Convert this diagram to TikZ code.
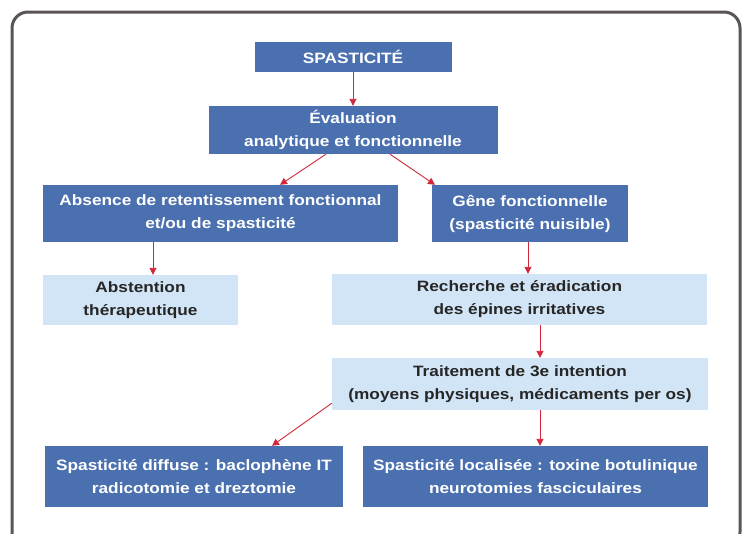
\documentclass[tikz,border=0pt]{standalone}
\usepackage{fontspec}
\setmainfont{Liberation Sans}[FakeStretch=1.15]
\usetikzlibrary{arrows.meta}
\definecolor{darkbox}{HTML}{4A70B0}
\definecolor{lightbox}{HTML}{D2E5F6}
\definecolor{arrowred}{HTML}{D0283A}
\definecolor{framegray}{HTML}{5A5454}
\tikzset{
  box/.style={inner sep=0pt, align=center, font=\fontsize{15}{23}\selectfont\bfseries},
  darkb/.style={box, fill=darkbox, text=white},
  lightb/.style={box, fill=lightbox, text=black!85},
  arr/.style={draw=arrowred, line width=0.9pt, -{Triangle[length=7pt,width=7pt]}}
}
\begin{document}
\begin{tikzpicture}[x=1pt,y=1pt]
\useasboundingbox (0,0) rectangle (747,-533);
\fill[white] (0,0) rectangle (747,-533);
\draw[framegray, line width=3pt, rounded corners=16pt] (12,-12) rectangle (740,-548);

\node[darkb, minimum width=197pt, minimum height=30pt] (spa) at (353,-57) {SPASTICITÉ};
\node[darkb, minimum width=289pt, minimum height=48pt] (eval) at (353,-130) {Évaluation\\analytique et fonctionnelle};
\node[darkb, minimum width=355pt, minimum height=57pt] (abs) at (220.5,-213.5) {Absence de retentissement fonctionnal\\et/ou de spasticité};
\node[darkb, minimum width=196pt, minimum height=57pt] (gene) at (530,-213.5) {Gêne fonctionnelle\\(spasticité nuisible)};
\node[lightb, minimum width=195pt, minimum height=50pt] (abst) at (140.5,-300) {Abstention\\thérapeutique};
\node[lightb, minimum width=375pt, minimum height=51pt] (rech) at (519.5,-299.5) {Recherche et éradication\\des épines irritatives};
\node[lightb, minimum width=376pt, minimum height=52pt] (trait) at (520,-384) {Traitement de 3e intention\\(moyens physiques, médicaments per os)};
\node[darkb, minimum width=298pt, minimum height=61pt] (diff) at (194,-476.5) {Spasticité diffuse : baclophène IT\\radicotomie et dreztomie};
\node[darkb, minimum width=345pt, minimum height=61pt] (loc) at (535.5,-476.5) {Spasticité localisée : toxine botulinique\\neurotomies fasciculaires};

\draw[arr] (spa.south) -- (eval.north);
\draw[arr] ([xshift=-27pt]eval.south) -- ([xshift=59.5pt]abs.north);
\draw[arr] ([xshift=37pt]eval.south) -- ([xshift=-95pt]gene.north);
\draw[arr] ([xshift=-67.5pt]abs.south) -- ([xshift=12.5pt]abst.north);
\draw[arr] ([xshift=-2pt]gene.south) -- ([xshift=8.5pt]rech.north);
\draw[arr] ([xshift=20.5pt]rech.south) -- ([xshift=20pt]trait.north);
\draw[arr] ([xshift=20pt]trait.south) -- ([xshift=4.5pt]loc.north);
\draw[arr] ([yshift=7pt]trait.south west) -- ([xshift=78pt]diff.north);
\end{tikzpicture}
\end{document}
